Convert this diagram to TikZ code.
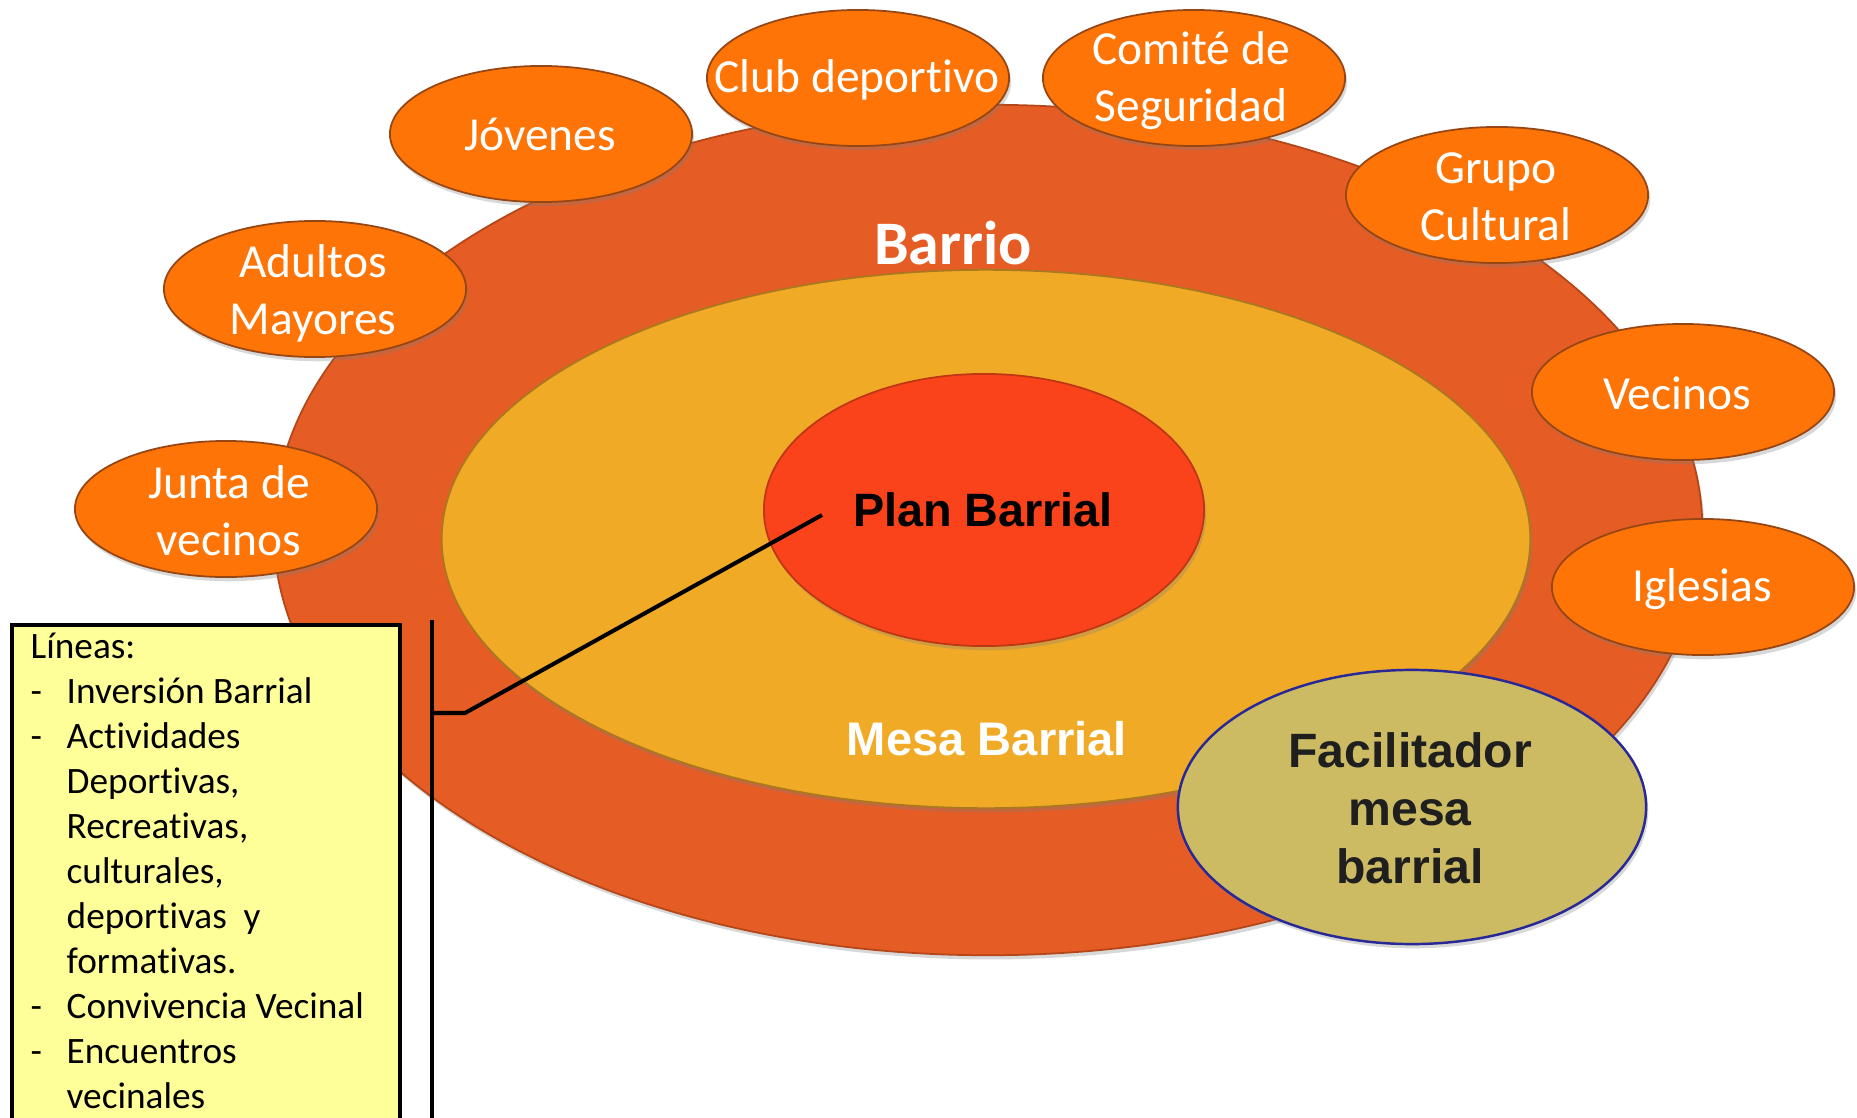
\documentclass[tikz,border=0pt]{standalone}
\usepackage{fontspec}
\setmainfont{Carlito}[RawFeature={-liga}]
\newfontfamily\arialfont{Liberation Sans}
\usetikzlibrary{shapes.geometric,shadows}
\definecolor{barriocol}{RGB}{229,92,36}
\definecolor{barrioedge}{RGB}{180,70,25}
\definecolor{mesacol}{RGB}{240,170,38}
\definecolor{mesaedge}{RGB}{170,120,30}
\definecolor{plancol}{RGB}{250,67,26}
\definecolor{planedge}{RGB}{190,55,20}
\definecolor{orgcol}{RGB}{255,116,6}
\definecolor{orgedge}{RGB}{150,70,20}
\definecolor{faccol}{RGB}{204,187,99}
\definecolor{facedge}{RGB}{40,40,150}
\definecolor{boxcol}{RGB}{255,255,153}
\newcommand{\lsdash}{\makebox[10.24pt][l]{-}}
\newcommand{\lsind}{\hspace*{10.24pt}}
\begin{document}
\begin{tikzpicture}[x=0.01cm,y=-0.01cm,
  shade/.style={drop shadow={opacity=0.3,shadow xshift=0.6pt,shadow yshift=-1.2pt}},
  orgball/.style={ellipse,draw=orgedge,line width=0.5pt,fill=orgcol,shade,minimum width=3.02cm,minimum height=1.36cm,inner sep=0pt},
  orgtxt/.style={text=white,align=center,font=\fontsize{13.5}{16.2}\selectfont,inner sep=0pt},
  bigtxt/.style={font=\arialfont\bfseries\fontsize{13.4}{16.6}\selectfont,align=center,inner sep=0pt},
  blackline/.style={line width=1.15pt,black}]
\useasboundingbox (0,0) rectangle (1857,1118);
\fill[white] (0,0) rectangle (1857,1118);

% outer Barrio ellipse
\node[ellipse,draw=barrioedge,line width=0.5pt,fill=barriocol,shade,minimum width=14.28cm,minimum height=8.5cm,inner sep=0pt] (barrio) at (988,530) {};

% surrounding groups
\node[orgball] (jov) at (541,134) {};
\node[orgball] (club) at (858,78) {};
\node[orgball] (comite) at (1194,78) {};
\node[orgball] (grupo) at (1497,195) {};
\node[orgball] (vec) at (1683,392) {};
\node[orgball] (igl) at (1703,587) {};
\node[orgball] (adul) at (315,289) {};
\node[orgball] (junta) at (226,509) {};

\node[orgtxt] (jovt) at (540,134) {Jóvenes};
\node[orgtxt] (clubt) at (857,80) {Club deportivo};
\node[orgtxt] (comitet) at (1191,81) {Comité de\\Seguridad};
\node[orgtxt] (grupot) at (1496,197) {Grupo\\Cultural};
\node[orgtxt] (vect) at (1677,393) {Vecinos};
\node[orgtxt] (iglt) at (1702,589) {Iglesias};
\node[orgtxt] (adult) at (313,293) {Adultos\\Mayores};
\node[orgtxt] (juntat) at (229,511) {Junta de\\vecinos};

% Mesa Barrial
\node[ellipse,draw=mesaedge,line width=0.5pt,fill=mesacol,shade,minimum width=10.88cm,minimum height=5.38cm,inner sep=0pt] (mesa) at (986,539) {};
% Plan Barrial
\node[ellipse,draw=planedge,line width=0.5pt,fill=plancol,shade,minimum width=4.40cm,minimum height=2.72cm,inner sep=0pt] (plan) at (984,510) {};

\node[text=white,font=\bfseries\fontsize{17.6}{20}\selectfont,inner sep=0pt] (barriot) at (953,243) {Barrio};
\node[bigtxt,text=white] (mesat) at (987,739) {Mesa Barrial};
\node[bigtxt,text=black,font=\arialfont\bfseries\fontsize{13.3}{16}\selectfont] (plant) at (983,510) {Plan Barrial};

% Facilitador
\node[ellipse,draw=facedge,line width=0.7pt,fill=faccol,shade,minimum width=4.68cm,minimum height=2.74cm,inner sep=0pt] (facil) at (1412,807) {};
\node[bigtxt,text={black!88},font=\arialfont\bfseries\fontsize{13.7}{16.5}\selectfont] (facilt) at (1410,808) {Facilitador\\mesa\\barrial};

% Lineas box
\node[draw=black,line width=1.15pt,fill=boxcol,anchor=north west,minimum width=3.88cm,minimum height=5.05cm,inner sep=0pt] (lineas) at (10,623) {};
\node[anchor=base west,inner sep=0pt] (lineast) at (30,658) {\parbox[t]{9.5cm}{\fontsize{10.6}{12.8}\selectfont
Líneas:\\
\lsdash Inversión Barrial\\
\lsdash Actividades\\
\lsind Deportivas,\\
\lsind Recreativas,\\
\lsind culturales,\\
\lsind deportivas\ \ y\\
\lsind formativas.\\
\lsdash Convivencia Vecinal\\
\lsdash Encuentros\\
\lsind vecinales}};

% bracket connector
\coordinate (brtop) at (432,620);
\coordinate (brbot) at (432,1125);
\coordinate (brtick) at (465,713);
\coordinate (planpt) at (822,515);
\draw[blackline] (brtop) -- (brbot);
\draw[blackline] (brtop |- brtick) -- (brtick) -- (planpt);
\end{tikzpicture}
\end{document}
